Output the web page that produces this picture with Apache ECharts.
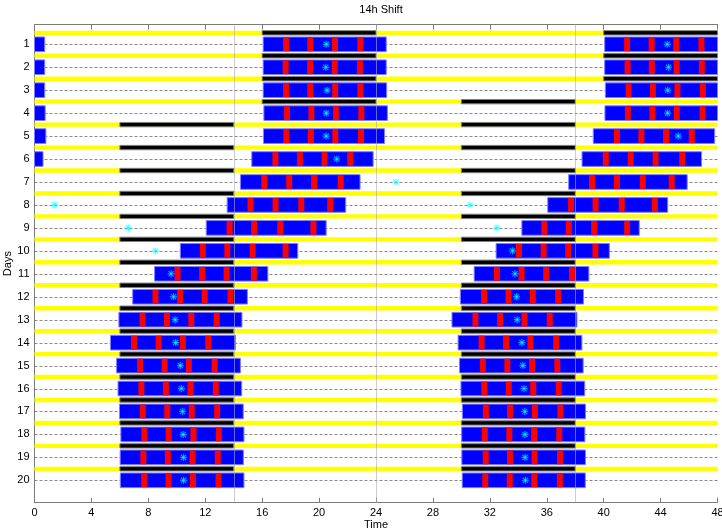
<!DOCTYPE html>
<html><head><meta charset="utf-8">
<script src="https://cdn.jsdelivr.net/npm/echarts@6/dist/echarts.min.js"></script>
<style>html,body{margin:0;padding:0;background:#fff}#c{width:722px;height:532px}</style>
</head><body><div id="c"></div>
<script>
// ---- data (hours relative to each day's midnight; day index 0..21) ----
const dayTicks = [1,2,3,4,5,6,7,8,9,10,11,12,13,14,15,16,17,18,19,20];
const xTicks = [0,4,8,12,16,20,24,28,32,36,40,44,48];
// lights-off time for each day 0..21 (dark lasts darkLength h)
const darkOnset = [16,16,16,16,16,6,6,6,6,6,6,6,6,6,6,6,6,6,6,6,6,6];
const darkLength = 8;
// activity bout onset / offset for each day 0..21
const boutOnset  = [16.07,16.07,16.07,16.07,16.12,16.09,15.27,14.48,13.54,12.07,10.25,8.44,6.9,5.93,5.34,5.77,5.87,5.97,6.07,6.02,6.03,6.06];
const boutOffset = [24.72,24.72,24.72,24.75,24.8,24.6,23.8,22.88,21.87,20.5,18.5,16.4,14.96,14.58,14.12,14.47,14.56,14.67,14.72,14.68,14.72,14.71];
// red marks inside each bout (centres)
const redMarks = [
  [17.68,19.38,21.12,22.9],
  [17.68,19.38,21.12,22.9],
  [17.65,19.37,21.1,22.87],
  [17.68,19.38,21.13,22.9],
  [17.75,19.46,21.18,22.97],
  [17.7,19.42,21.14,22.95],
  [16.93,18.65,20.38,22.19],
  [16.15,17.9,19.65,21.52],
  [15.18,16.94,18.75,20.78],
  [13.71,15.43,17.27,19.6],
  [11.83,13.55,15.33,17.65],
  [10.05,11.78,13.5,15.42],
  [8.5,10.23,11.96,13.77],
  [7.59,9.31,11.02,12.8],
  [6.99,8.72,10.43,12.21],
  [7.42,9.14,10.85,12.66],
  [7.51,9.23,10.97,12.74],
  [7.61,9.33,11.05,12.84],
  [7.72,9.42,11.17,12.96],
  [7.65,9.37,11.11,12.88],
  [7.71,9.42,11.14,12.93],
  [7.68,9.4,11.12,12.92]
];
// phase marker (asterisk) of each day
const starTime = [20.5,20.5,20.47,20.56,20.5,20.49,21.24,null,1.4,6.6,8.5,9.6,9.77,9.88,9.92,10.25,10.32,10.4,10.45,10.47,10.47,10.5];
const refLines = [14,24,38];

// ---- double-plot placement ----
const X0 = 0, X1 = 48, NROWS = 20, MARKW = 0.42;
function place(k, t0, t1) {
  const out = [];
  for (let r = 1; r <= NROWS; r++) {
    const off = 24 * (k - r);
    const a = Math.max(t0 + off, X0), b = Math.min(t1 + off, X1);
    if (b > a) out.push([a, b, r]);
  }
  return out;
}
const lightData = dayTicks.map(r => [X0, X1, r - 0.5]);
const darkData = [];
darkOnset.forEach((on, k) => place(k, on, on + darkLength).forEach(s => darkData.push([s[0], s[1], s[2] - 0.5])));
const boutData = [];
boutOnset.forEach((on, k) => place(k, on, boutOffset[k]).forEach(s => boutData.push(s)));
const markData = [];
redMarks.forEach((arr, k) => arr.forEach(c => place(k, c - MARKW/2, c + MARKW/2).forEach(s => markData.push(s))));
const starData = [];
starTime.forEach((t, k) => {
  if (t == null) return;
  for (let r = 1; r <= NROWS; r++) {
    const x = t + 24 * (k - r);
    if (x >= X0 && x <= X1) starData.push([x, r]);
  }
});
const dashData = dayTicks.map(d => [X0, X1, d]);

const YMIN = 0.137, YMAX = 20.976;

function rectRender(fill, stroke, lw, hDays) {
  return function (params, api) {
    const p0 = api.coord([api.value(0), api.value(2)]);
    const p1 = api.coord([api.value(1), api.value(2)]);
    const h = api.size([0, hDays])[1];
    return {type: 'rect', shape: {x: p0[0], y: p0[1] - h/2, width: p1[0] - p0[0], height: h},
      style: {fill: fill, stroke: stroke, lineWidth: lw}};
  };
}
const FONT = 'Liberation Sans, Arial, sans-serif';
const chart = echarts.init(document.getElementById('c'), null, {renderer: 'canvas'});
chart.setOption({
  animation: false,
  backgroundColor: '#fff',
  title: {text: '14h Shift', left: 376, textAlign: 'center', top: -1,
    textStyle: {fontSize: 11, fontWeight: 'normal', color: '#000', fontFamily: FONT}},
  grid: {left: 34.5, right: 4.5, top: 24.5, bottom: 29.3, containLabel: false, outerBoundsMode: 'none'},
  xAxis: [
    {type: 'value', min: X0, max: X1, interval: 4, position: 'bottom',
     axisLine: {show: true, lineStyle: {color: '#7a7a7a'}},
     axisTick: {show: true, inside: true, length: 5, lineStyle: {color: '#7a7a7a'}},
     axisLabel: {show: true, color: '#000', fontSize: 11, margin: 5, fontFamily: FONT,
       customValues: xTicks},
     splitLine: {show: false},
     name: 'Time', nameLocation: 'middle', nameGap: 17, nameMoveOverlap: false,
     nameTextStyle: {fontSize: 11, color: '#000', fontFamily: FONT}},
    {type: 'value', min: X0, max: X1, interval: 4, position: 'top',
     axisLine: {show: true, lineStyle: {color: '#7a7a7a'}},
     axisTick: {show: true, inside: true, length: 5, lineStyle: {color: '#7a7a7a'}},
     axisLabel: {show: false}, splitLine: {show: false}}
  ],
  yAxis: [
    {type: 'value', inverse: true, min: YMIN, max: YMAX, position: 'left',
     axisLine: {show: true, lineStyle: {color: '#7a7a7a'}},
     axisTick: {show: false},
     axisLabel: {show: true, customValues: dayTicks, color: '#000', fontSize: 11, margin: 5, fontFamily: FONT},
     splitLine: {show: false},
     name: 'Days', nameLocation: 'middle', nameGap: 21, nameRotate: 90, nameMoveOverlap: false,
     nameTextStyle: {fontSize: 11, color: '#000', fontFamily: FONT}},
    {type: 'value', inverse: true, min: YMIN, max: YMAX, position: 'right',
     axisLine: {show: true, lineStyle: {color: '#7a7a7a'}},
     axisTick: {show: false}, axisLabel: {show: false}, splitLine: {show: false}}
  ],
  series: [
    {type: 'custom', silent: true, z: 1, data: dashData, encode: {x: [0, 1], y: 2},
     renderItem: function (params, api) {
       const p0 = api.coord([api.value(0), api.value(2)]);
       const p1 = api.coord([api.value(1), api.value(2)]);
       const y = Math.round(p0[1]) + 0.5;
       return {type: 'line', shape: {x1: p0[0], y1: y, x2: p1[0], y2: y},
         style: {stroke: '#8a8a8a', lineWidth: 1, lineDash: [3, 2]}};
     }},
    {type: 'custom', silent: true, z: 2, data: lightData, encode: {x: [0, 1], y: 2},
     renderItem: rectRender('#ffff00', null, 0, 0.19)},
    {type: 'custom', silent: true, z: 3, data: darkData, encode: {x: [0, 1], y: 2},
     renderItem: rectRender('#000000', '#808080', 1, 0.19)},
    {type: 'custom', silent: true, z: 4, data: boutData, encode: {x: [0, 1], y: 2},
     renderItem: rectRender('#0000ff', '#8080ff', 1, 0.64)},
    {type: 'custom', silent: true, z: 5, data: markData, encode: {x: [0, 1], y: 2},
     renderItem: rectRender('#ff0000', null, 0, 0.6)},
    {type: 'custom', silent: true, z: 6, data: refLines.map(x => [x]), encode: {x: 0},
     renderItem: function (params, api) {
       const p0 = api.coord([api.value(0), YMIN]);
       const p1 = api.coord([api.value(0), YMAX]);
       const x = Math.round(p0[0]) + 0.5;
       return {type: 'line', shape: {x1: x, y1: p0[1], x2: x, y2: p1[1]},
         style: {stroke: 'rgba(170,170,170,0.6)', lineWidth: 1}};
     }},
    {type: 'custom', silent: true, z: 7, data: starData, encode: {x: 0, y: 1},
     renderItem: function (params, api) {
       const p = api.coord([api.value(0), api.value(1)]);
       const s = 3.5, d = 2.6;
       const st = {stroke: 'rgba(0,255,255,0.6)', lineWidth: 1.2};
       return {type: 'group', children: [
         {type: 'line', shape: {x1: p[0]-s, y1: p[1], x2: p[0]+s, y2: p[1]}, style: st},
         {type: 'line', shape: {x1: p[0], y1: p[1]-s, x2: p[0], y2: p[1]+s}, style: st},
         {type: 'line', shape: {x1: p[0]-d, y1: p[1]-d, x2: p[0]+d, y2: p[1]+d}, style: st},
         {type: 'line', shape: {x1: p[0]-d, y1: p[1]+d, x2: p[0]+d, y2: p[1]-d}, style: st}
       ]};
     }}
  ]
});
</script></body></html>
